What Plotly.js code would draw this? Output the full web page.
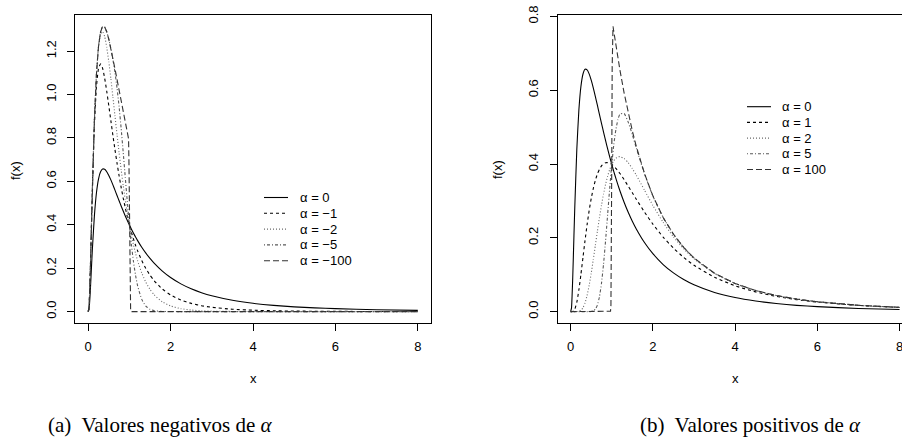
<!DOCTYPE html>
<html>
<head>
<meta charset="utf-8">
<script src="https://cdn.plot.ly/plotly-3.0.1.min.js"></script>
<style>html,body{margin:0;padding:0;background:#fff}</style>
</head>
<body>
<div id="chart" style="width:902px;height:445px"></div>
<script>
// ---------- data ----------
const xGrid = [0, 0.02, 0.05, 0.08, 0.1, 0.15, 0.2, 0.25, 0.3, 0.35, 0.4, 0.45, 0.5, 0.55, 0.6, 0.65, 0.7, 0.75, 0.8, 0.85, 0.9, 0.95, 1.0, 1.05, 1.1, 1.15, 1.2, 1.3, 1.4, 1.5, 1.6, 1.8, 2.0, 2.25, 2.5, 2.75, 3, 3.5, 4, 4.5, 5, 5.5, 6, 7, 8];

const fAlpha0 = [0, 0.0095, 0.0898, 0.2053, 0.2815, 0.4399, 0.5463, 0.6104, 0.6441, 0.6569, 0.6554, 0.6445, 0.6275, 0.6067, 0.5836, 0.5594, 0.5348, 0.5104, 0.4864, 0.4632, 0.4408, 0.4194, 0.3989, 0.3795, 0.3610, 0.3435, 0.3270, 0.2965, 0.2693, 0.2450, 0.2233, 0.1865, 0.1569, 0.1276, 0.1049, 0.0870, 0.0727, 0.0520, 0.0381, 0.0286, 0.0219, 0.0170, 0.0134, 0.0086, 0.0057];

const fAlphaM1 = [0, 0.0190, 0.1794, 0.4082, 0.5570, 0.8544, 1.0338, 1.1197, 1.1410, 1.1208, 1.0751, 1.0153, 0.9487, 0.8797, 0.8116, 0.7459, 0.6838, 0.6259, 0.5723, 0.5230, 0.4778, 0.4366, 0.3989, 0.3647, 0.3336, 0.3053, 0.2797, 0.2351, 0.1984, 0.1679, 0.1426, 0.1038, 0.0766, 0.0533, 0.0377, 0.0271, 0.0198, 0.0109, 0.0063, 0.0038, 0.0024, 0.0015, 0.0010, 0.0004, 0.0002];

const fAlphaM2 = [0, 0.0190, 0.1796, 0.4106, 0.5630, 0.8797, 1.0919, 1.2174, 1.2779, 1.2903, 1.2670, 1.2180, 1.1511, 1.0728, 0.9880, 0.9012, 0.8153, 0.7324, 0.6540, 0.5812, 0.5143, 0.4537, 0.3989, 0.3500, 0.3064, 0.2679, 0.2339, 0.1779, 0.1349, 0.1023, 0.0775, 0.0447, 0.0260, 0.0134, 0.0070, 0.0037, 0.0020, 0.0006, 0.0002, 0, 0, 0, 0, 0, 0];

const fAlphaM5 = [0, 0.0190, 0.1796, 0.4106, 0.5630, 0.8798, 1.0926, 1.2208, 1.2882, 1.3138, 1.3108, 1.2890, 1.2547, 1.2117, 1.1610, 1.1013, 1.0298, 0.9441, 0.8441, 0.7334, 0.6178, 0.5043, 0.3989, 0.3063, 0.2287, 0.1665, 0.1184, 0.0562, 0.0249, 0.0104, 0.0042, 0.0006, 0.0001, 0, 0, 0, 0, 0, 0, 0, 0, 0, 0, 0, 0];

const xAlphaM100 = [0, 0.02, 0.05, 0.08, 0.1, 0.15, 0.2, 0.25, 0.3, 0.35, 0.4, 0.45, 0.5, 0.55, 0.6, 0.65, 0.7, 0.75, 0.8, 0.85, 0.9, 0.95, 0.97, 0.98, 0.99, 1.0, 1.01, 1.02, 1.03, 1.05, 1.5, 2, 3, 4, 5, 6, 7, 8];
const fAlphaM100 = [0, 0.0190, 0.1796, 0.4106, 0.5630, 0.8798, 1.0926, 1.2208, 1.2882, 1.3138, 1.3108, 1.2890, 1.2550, 1.2134, 1.1672, 1.1188, 1.0696, 1.0208, 0.9728, 0.9264, 0.8816, 0.8388, 0.8213, 0.7963, 0.6791, 0.3989, 0.1264, 0.0188, 0.0012, 0, 0, 0, 0, 0, 0, 0, 0, 0];

const fAlphaP1 = [0, 0, 0.0002, 0.0024, 0.0060, 0.0254, 0.0588, 0.1011, 0.1472, 0.1930, 0.2357, 0.2737, 0.3063, 0.3337, 0.3556, 0.3729, 0.3858, 0.3949, 0.4005, 0.4034, 0.4038, 0.4022, 0.3989, 0.3943, 0.3884, 0.3817, 0.3743, 0.3579, 0.3402, 0.3221, 0.3040, 0.2692, 0.2372, 0.2019, 0.1721, 0.1469, 0.1256, 0.0931, 0.0700, 0.0534, 0.0413, 0.0324, 0.0257, 0.0167, 0.0113];

const fAlphaP2 = [0, 0, 0, 0, 0, 0.0001, 0.0007, 0.0034, 0.0103, 0.0235, 0.0438, 0.0710, 0.1039, 0.1406, 0.1792, 0.2176, 0.2543, 0.2884, 0.3188, 0.3452, 0.3673, 0.3851, 0.3989, 0.4090, 0.4156, 0.4191, 0.4201, 0.4151, 0.4037, 0.3877, 0.3691, 0.3283, 0.2878, 0.2418, 0.2028, 0.1703, 0.1434, 0.1034, 0.0761, 0.0571, 0.0437, 0.0339, 0.0267, 0.0172, 0.0115];

const fAlphaP5 = [0, 0, 0, 0, 0, 0, 0, 0, 0, 0, 0, 0, 0.0003, 0.0017, 0.0062, 0.0175, 0.0398, 0.0767, 0.1287, 0.1930, 0.2638, 0.3345, 0.3989, 0.4527, 0.4933, 0.5205, 0.5356, 0.5368, 0.5137, 0.4796, 0.4424, 0.3724, 0.3137, 0.2552, 0.2098, 0.1740, 0.1454, 0.1040, 0.0763, 0.0572, 0.0437, 0.0339, 0.0267, 0.0172, 0.0115];

const xAlphaP100 = [0, 0.5, 0.9, 0.95, 0.97, 0.98, 0.99, 1.0, 1.01, 1.02, 1.03, 1.05, 1.1, 1.15, 1.2, 1.3, 1.4, 1.5, 1.6, 1.8, 2.0, 2.25, 2.5, 2.75, 3, 3.5, 4, 4.5, 5, 5.5, 6, 7, 8];
const fAlphaP100 = [0, 0, 0, 0, 0.0010, 0.0177, 0.1269, 0.3989, 0.6636, 0.7633, 0.7731, 0.7590, 0.7220, 0.6870, 0.6540, 0.5930, 0.5386, 0.4900, 0.4466, 0.3730, 0.3138, 0.2552, 0.2098, 0.1740, 0.1454, 0.1040, 0.0763, 0.0572, 0.0437, 0.0339, 0.0267, 0.0172, 0.0115];

const alphasNeg = ["0", "\u22121", "\u22122", "\u22125", "\u2212100"];
const alphasPos = ["0", "1", "2", "5", "100"];
const xTicks = [0, 2, 4, 6, 8];
const yTicksLeft = [0, 0.2, 0.4, 0.6, 0.8, 1.0, 1.2];
const yTicksRight = [0, 0.2, 0.4, 0.6, 0.8];
const captionLeft = "(a)  Valores negativos de <i>\u03b1</i>";
const captionRight = "(b)  Valores positivos de <i>\u03b1</i>";

// ---------- styles ----------
const styles = [
  {color: "#000000", dash: "solid", shape: "spline"},
  {color: "#000000", dash: "3px,3px", shape: "spline"},
  {color: "#6a6a6a", dash: "1px,2px", shape: "spline"},
  {color: "#5a5a5a", dash: "1px,2px,3px,2px", shape: "spline"},
  {color: "#333333", dash: "6px,3px", shape: "linear"}
];

const negSeries = [[xGrid, fAlpha0], [xGrid, fAlphaM1], [xGrid, fAlphaM2], [xGrid, fAlphaM5], [xAlphaM100, fAlphaM100]];
const posSeries = [[xGrid, fAlpha0], [xGrid, fAlphaP1], [xGrid, fAlphaP2], [xGrid, fAlphaP5], [xAlphaP100, fAlphaP100]];

const traces = [];
negSeries.forEach((s, i) => traces.push({
  x: s[0], y: s[1], xaxis: "x", yaxis: "y", type: "scatter", mode: "lines",
  line: {color: styles[i].color, dash: styles[i].dash, width: 1.1, shape: styles[i].shape, smoothing: 0.5},
  showlegend: false, hoverinfo: "skip"
}));
posSeries.forEach((s, i) => traces.push({
  x: s[0], y: s[1], xaxis: "x2", yaxis: "y2", type: "scatter", mode: "lines",
  line: {color: styles[i].color, dash: styles[i].dash, width: 1.1, shape: styles[i].shape, smoothing: 0.5},
  showlegend: false, hoverinfo: "skip"
}));

// pixel -> paper helpers (plot area: left 75, right 902, top 15, bottom 323)
const L = 75, R = 902, T = 15, B = 323;
const px = v => (v - L) / (R - L);
const py = v => (B - v) / (B - T);

const FONT = "Liberation Sans, Arial, Helvetica, sans-serif";
const FS = 13;
const annotations = [];
const shapes = [];

function addLegend(labels, lineX0, lineX1, textX, rowY) {
  labels.forEach((lab, i) => {
    const y = rowY[i];
    shapes.push({type: "line", xref: "paper", yref: "paper",
      x0: px(lineX0), x1: px(lineX1), y0: py(y), y1: py(y),
      line: {color: styles[i].color, width: 1.1, dash: styles[i].dash}});
    annotations.push({xref: "paper", yref: "paper", x: px(textX), y: py(y),
      xanchor: "left", yanchor: "middle", showarrow: false,
      text: "\u03b1 = " + lab, font: {family: FONT, size: FS, color: "#000"}});
  });
}
addLegend(alphasNeg, 264, 288, 298, [197.5, 213.3, 229.1, 244.9, 260.7]);
addLegend(alphasPos, 747, 771, 780, [106.7, 122.4, 138.1, 153.8, 169.5]);

// axis titles
annotations.push({xref: "x", yref: "paper", x: 4, y: py(378), showarrow: false, text: "x",
  xanchor: "center", yanchor: "middle", font: {family: FONT, size: FS, color: "#000"}});
annotations.push({xref: "x2", yref: "paper", x: 4, y: py(378), showarrow: false, text: "x",
  xanchor: "center", yanchor: "middle", font: {family: FONT, size: FS, color: "#000"}});
annotations.push({xref: "paper", yref: "paper", x: px(15), y: py(170), showarrow: false, text: "f(x)",
  textangle: -90, xanchor: "center", yanchor: "middle", font: {family: FONT, size: FS, color: "#000"}});
annotations.push({xref: "paper", yref: "paper", x: px(497), y: py(170), showarrow: false, text: "f(x)",
  textangle: -90, xanchor: "center", yanchor: "middle", font: {family: FONT, size: FS, color: "#000"}});

// captions
const CAPFONT = "Liberation Serif, DejaVu Serif, serif";
annotations.push({xref: "paper", yref: "paper", x: px(160), y: py(425), showarrow: false, text: captionLeft,
  xanchor: "center", yanchor: "middle", font: {family: CAPFONT, size: 21, color: "#000"}});
annotations.push({xref: "paper", yref: "paper", x: px(750), y: py(425), showarrow: false, text: captionRight,
  xanchor: "center", yanchor: "middle", font: {family: CAPFONT, size: 21, color: "#000"}});

const axisCommon = {
  showgrid: false, zeroline: false, showline: true, linecolor: "#000", linewidth: 1,
  ticks: "outside", ticklen: 7, tickwidth: 1, tickcolor: "#000",
  tickfont: {family: FONT, size: FS, color: "#000"},
  ticklabeloverflow: "allow"
};

const layout = {
  width: 902, height: 445,
  margin: {l: L, r: 0, t: T, b: 445 - B, pad: 0},
  paper_bgcolor: "#fff", plot_bgcolor: "#fff",
  showlegend: false,
  xaxis: Object.assign({}, axisCommon, {domain: [0, px(431)], range: [-0.32, 8.32],
    tickvals: xTicks, ticktext: xTicks.map(String), mirror: true, anchor: "y", ticklabelstandoff: 4}),
  yaxis: Object.assign({}, axisCommon, {domain: [0, 1], range: [-0.0526, 1.3664],
    tickvals: yTicksLeft, ticktext: yTicksLeft.map(v => v.toFixed(1)), tickangle: -90, mirror: true, anchor: "x", ticklabelstandoff: 6}),
  xaxis2: Object.assign({}, axisCommon, {domain: [px(557.5), 1], range: [-0.32, 8.06],
    tickvals: xTicks, ticktext: xTicks.map(String), mirror: true, anchor: "y2", ticklabelstandoff: 4}),
  yaxis2: Object.assign({}, axisCommon, {domain: [0, 1], range: [-0.0309, 0.8040],
    tickvals: yTicksRight, ticktext: yTicksRight.map(v => v.toFixed(1)), tickangle: -90, mirror: false, anchor: "x2", ticklabelstandoff: 6}),
  annotations: annotations,
  shapes: shapes
};

Plotly.newPlot("chart", traces, layout, {staticPlot: true, displayModeBar: false});
</script>
</body>
</html>
